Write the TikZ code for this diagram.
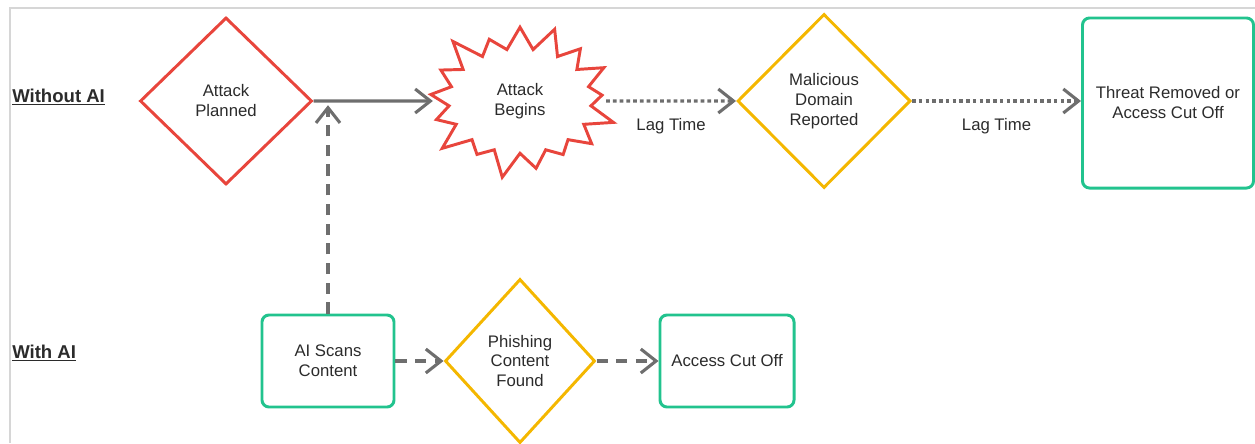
\documentclass[tikz,border=0pt]{standalone}
\usepackage{fontspec}
\setmainfont{Liberation Sans}
\usepackage{xcolor}
\usetikzlibrary{arrows.meta,positioning,shapes.geometric,shapes.symbols,calc}

\definecolor{alertred}{HTML}{E8453C}
\definecolor{warnyellow}{HTML}{F4B700}
\definecolor{safegreen}{HTML}{22C38E}
\definecolor{flowgray}{HTML}{6E6E6E}
\definecolor{framegray}{HTML}{D6D6D6}
\definecolor{inkgray}{HTML}{2B2B2B}

\begin{document}
\begin{tikzpicture}[
  x=0.025cm,y=0.025cm,
  every node/.style={text=inkgray,font=\fontsize{11.9}{14.2}\selectfont,align=center},
  decision/.style={diamond,draw,line width=2.1pt,inner sep=0pt},
  endbox/.style={draw=safegreen,line width=2.1pt,rounded corners=5pt},
  rowlabel/.style={anchor=west,inner sep=0pt,font=\fontsize{13.2}{15}\selectfont\bfseries},
  arrow/.style={-{Straight Barb[length=3.8mm,width=6mm]},line width=2.2pt,draw=flowgray},
  lag/.style={arrow,dash pattern=on 2.6pt off 2.2pt},
  aiflow/.style={arrow,dash pattern=on 8pt off 6pt},
]
\useasboundingbox (0,0) rectangle (1255,443);
% frame
\draw[framegray,line width=1.4pt] (10,0) -- (10,435) -- (1260,435);

% without AI
\node[rowlabel] (without) at (12,346) {\underline{Without AI}};
\node[decision,draw=alertred,minimum width=4.3cm,minimum height=4.175cm] (planned) at (226,342) {Attack\\Planned};
\node[starburst,draw=alertred,line width=2.1pt,starburst points=17,starburst point height=0.75cm,
      inner xsep=0.62cm,inner ysep=0.48cm] (begins) at (520,342) {Attack\\Begins};
\node[decision,draw=warnyellow,minimum width=4.325cm,minimum height=4.35cm] (reported) at (824,342) {Malicious\\Domain\\Reported};
\node[endbox,minimum width=4.275cm,minimum height=4.25cm] (removed) at (1168,340) {Threat Removed or\\Access Cut Off};

% with AI
\node[rowlabel] (with) at (12,90) {\underline{With AI}};
\node[endbox,minimum width=3.3cm,minimum height=2.3cm] (scans) at (328,82) {AI Scans\\Content};
\node[decision,draw=warnyellow,minimum width=3.75cm,minimum height=4.1cm] (found) at (520,82) {Phishing\\Content\\Found};
\node[endbox,minimum width=3.35cm,minimum height=2.3cm] (cutoff) at (727,82) {Access Cut Off};

\coordinate (meet) at (scans.north |- planned.east);
\coordinate (burst tip) at ([xshift=0.2cm]begins.east);

\draw[arrow] (planned.east) -- ([xshift=-4pt]begins.west);
\draw[lag] (burst tip) -- (reported.west) node[midway,below=0.27cm] (lag1) {Lag Time};
\draw[lag] (reported.east) -- (removed.west |- reported.east) node[midway,below=0.27cm] (lag2) {Lag Time};
\draw[aiflow] (scans.north) -- ([yshift=-3pt]meet);
\draw[aiflow] (scans.east) -- (found.west);
\draw[aiflow] (found.east) -- (cutoff.west);
\end{tikzpicture}
\end{document}
